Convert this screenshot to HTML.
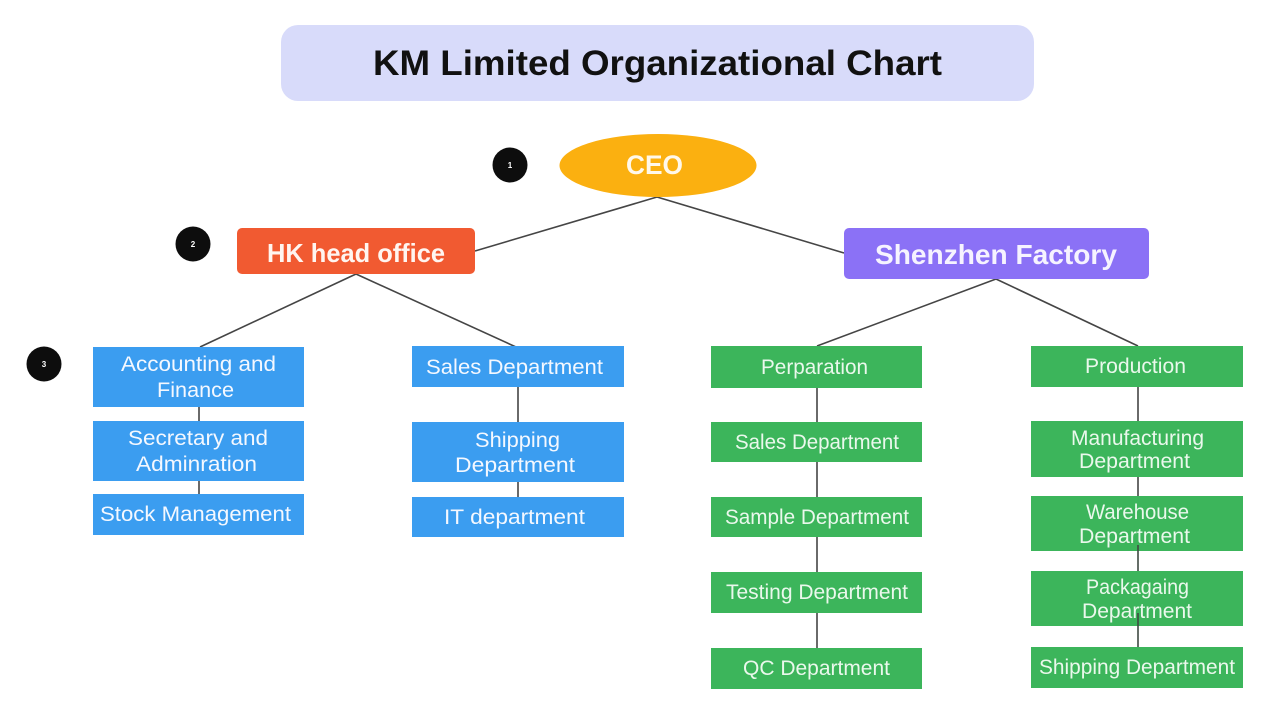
<!DOCTYPE html>
<html>
<head>
<meta charset="utf-8">
<style>
html,body{margin:0;padding:0;background:#ffffff;}
svg{display:block;}
text{font-family:"Liberation Sans",Arial,sans-serif;}
.b{fill:#f4f8ff;font-size:21px;}
.g{fill:#eaf8ec;font-size:21px;}
</style>
</head>
<body>
<svg width="1269" height="714" viewBox="0 0 1269 714" xmlns="http://www.w3.org/2000/svg">
<rect x="0" y="0" width="1269" height="714" fill="#ffffff"/>
<!-- Title -->
<rect x="281" y="25" width="753" height="76" rx="17" fill="#d8dbfa"/>
<text x="373" y="75" font-size="35" font-weight="bold" fill="#111111" textLength="569" lengthAdjust="spacingAndGlyphs">KM Limited Organizational Chart</text>

<!-- connectors -->
<g stroke="#454545" stroke-width="1.6" fill="none">
<line x1="657" y1="197" x2="475" y2="251"/>
<line x1="657" y1="197" x2="844" y2="253"/>
<line x1="356" y1="274" x2="200" y2="347"/>
<line x1="356" y1="274" x2="516" y2="347"/>
<line x1="996" y1="279" x2="817" y2="346"/>
<line x1="996" y1="279" x2="1138" y2="346"/>
<line x1="199" y1="407" x2="199" y2="421"/>
<line x1="199" y1="481" x2="199" y2="494"/>
<line x1="518" y1="387" x2="518" y2="422"/>
<line x1="518" y1="482" x2="518" y2="497"/>
<line x1="817" y1="388" x2="817" y2="422"/>
<line x1="817" y1="462" x2="817" y2="497"/>
<line x1="817" y1="537" x2="817" y2="572"/>
<line x1="817" y1="613" x2="817" y2="648"/>
<line x1="1138" y1="387" x2="1138" y2="421"/>
<line x1="1138" y1="477" x2="1138" y2="496"/>
</g>

<!-- number circles -->
<circle cx="510" cy="165" r="17.5" fill="#0d0d0d"/>
<text x="510" y="168" font-size="8" font-weight="bold" fill="#fff" text-anchor="middle">1</text>
<circle cx="193" cy="244" r="17.5" fill="#0d0d0d"/>
<text x="193" y="247" font-size="8" font-weight="bold" fill="#fff" text-anchor="middle">2</text>
<circle cx="44" cy="364" r="17.5" fill="#0d0d0d"/>
<text x="44" y="367" font-size="8" font-weight="bold" fill="#fff" text-anchor="middle">3</text>

<!-- CEO -->
<ellipse cx="658" cy="165.5" rx="98.5" ry="31.5" fill="#fbb010"/>
<text x="626" y="174" font-size="27" font-weight="bold" fill="#fff8ea" textLength="57" lengthAdjust="spacingAndGlyphs">CEO</text>

<!-- HK head office -->
<rect x="237" y="228" width="238" height="46" rx="5" fill="#f15a31"/>
<text x="267" y="262" font-size="26" font-weight="bold" fill="#fff5f0" textLength="178" lengthAdjust="spacingAndGlyphs">HK head office</text>

<!-- Shenzhen Factory -->
<rect x="844" y="228" width="305" height="51" rx="5" fill="#8b71f6"/>
<text x="875" y="264" font-size="28" font-weight="bold" fill="#f6f3ff" textLength="242" lengthAdjust="spacingAndGlyphs">Shenzhen Factory</text>

<!-- Blue column 1 -->
<rect x="93" y="347" width="211" height="60" fill="#3b9df0"/>
<text class="b" x="121" y="371" textLength="155" lengthAdjust="spacingAndGlyphs">Accounting and</text>
<text class="b" x="157" y="397" textLength="77" lengthAdjust="spacingAndGlyphs">Finance</text>
<rect x="93" y="421" width="211" height="60" fill="#3b9df0"/>
<text class="b" x="128" y="445" textLength="140" lengthAdjust="spacingAndGlyphs">Secretary and</text>
<text class="b" x="136" y="471" textLength="121" lengthAdjust="spacingAndGlyphs">Adminration</text>
<rect x="93" y="494" width="211" height="41" fill="#3b9df0"/>
<text class="b" x="100" y="521" textLength="191" lengthAdjust="spacingAndGlyphs">Stock Management</text>

<!-- Blue column 2 -->
<rect x="412" y="346" width="212" height="41" fill="#3b9df0"/>
<text class="b" x="426" y="374" textLength="177" lengthAdjust="spacingAndGlyphs">Sales Department</text>
<rect x="412" y="422" width="212" height="60" fill="#3b9df0"/>
<text class="b" x="475" y="447" textLength="85" lengthAdjust="spacingAndGlyphs">Shipping</text>
<text class="b" x="455" y="472" textLength="120" lengthAdjust="spacingAndGlyphs">Department</text>
<rect x="412" y="497" width="212" height="40" fill="#3b9df0"/>
<text class="b" x="444" y="524" textLength="141" lengthAdjust="spacingAndGlyphs">IT department</text>

<!-- Green column 3 -->
<rect x="711" y="346" width="211" height="42" fill="#3cb55b"/>
<text class="g" x="761" y="374" textLength="107" lengthAdjust="spacingAndGlyphs">Perparation</text>
<rect x="711" y="422" width="211" height="40" fill="#3cb55b"/>
<text class="g" x="735" y="449" textLength="164" lengthAdjust="spacingAndGlyphs">Sales Department</text>
<rect x="711" y="497" width="211" height="40" fill="#3cb55b"/>
<text class="g" x="725" y="524" textLength="184" lengthAdjust="spacingAndGlyphs">Sample Department</text>
<rect x="711" y="572" width="211" height="41" fill="#3cb55b"/>
<text class="g" x="726" y="599" textLength="182" lengthAdjust="spacingAndGlyphs">Testing Department</text>
<rect x="711" y="648" width="211" height="41" fill="#3cb55b"/>
<text class="g" x="743" y="675" textLength="147" lengthAdjust="spacingAndGlyphs">QC Department</text>

<!-- Green column 4 -->
<rect x="1031" y="346" width="212" height="41" fill="#3cb55b"/>
<text class="g" x="1085" y="373" textLength="101" lengthAdjust="spacingAndGlyphs">Production</text>
<rect x="1031" y="421" width="212" height="56" fill="#3cb55b"/>
<text class="g" x="1071" y="445" textLength="133" lengthAdjust="spacingAndGlyphs">Manufacturing</text>
<text class="g" x="1079" y="468" textLength="111" lengthAdjust="spacingAndGlyphs">Department</text>
<rect x="1031" y="496" width="212" height="55" fill="#3cb55b"/>
<text class="g" x="1086" y="519" textLength="103" lengthAdjust="spacingAndGlyphs">Warehouse</text>
<text class="g" x="1079" y="543" textLength="111" lengthAdjust="spacingAndGlyphs">Department</text>
<rect x="1031" y="571" width="212" height="55" fill="#3cb55b"/>
<text class="g" x="1086" y="594" textLength="103" lengthAdjust="spacingAndGlyphs">Packagaing</text>
<text class="g" x="1082" y="618" textLength="110" lengthAdjust="spacingAndGlyphs">Department</text>
<rect x="1031" y="647" width="212" height="41" fill="#3cb55b"/>
<text class="g" x="1039" y="674" textLength="196" lengthAdjust="spacingAndGlyphs">Shipping Department</text>

<!-- connectors overlapping boxes in column 4 -->
<g stroke="#3f4a42" stroke-width="1.6">
<line x1="1138" y1="545" x2="1138" y2="571"/>
<line x1="1138" y1="613" x2="1138" y2="647"/>
</g>
</svg>
</body>
</html>
